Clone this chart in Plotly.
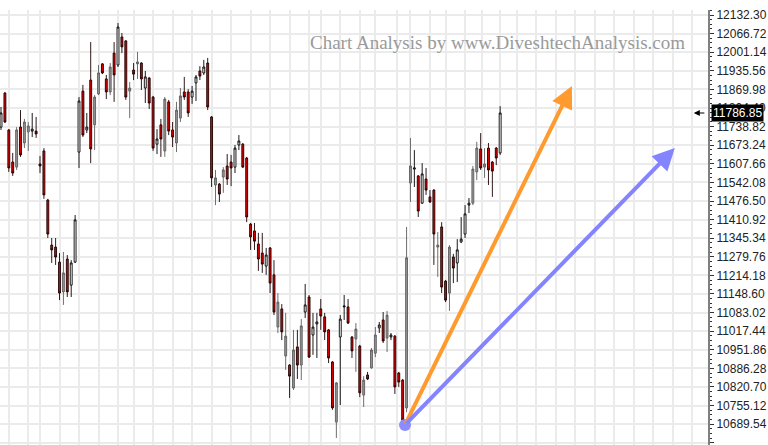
import plotly.graph_objects as go

# daily candles, left to right (index = trading day)
kind = ["W", "R", "R", "R", "G", "R", "G", "G", "W", "R",
        "R", "R", "R", "R", "R", "R", "G", "R", "W", "W",
        "W", "R", "W", "R", "G", "G", "R", "R", "G", "R",
        "W", "R", "R", "G", "R", "G", "R", "W", "R", "R",
        "W", "R", "G", "R", "R", "G", "G", "R", "R", "W",
        "W", "R", "W", "R", "R", "G", "R", "G", "R", "R",
        "W", "W", "R", "R", "R", "R", "R", "R", "W", "R",
        "R", "G", "R", "G", "R", "G", "R", "G", "W", "R",
        "W", "W", "R", "R", "R", "R", "G", "W", "W", "R",
        "R", "G", "R", "G", "R", "G", "G", "W", "R", "G",
        "W", "R", "R", "R", "G", "G", "W", "R", "W", "R",
        "R", "R", "G", "R", "R", "G", "R", "W", "W", "W",
        "W", "G", "G", "R", "G", "R", "R", "R", "W"]

open_ = [11737, 11857, 11727, 11614, 11596, 11737, 11681, 11720, 11723, 11723,
         11607, 11653, 11480, 11321, 11314, 11261, 11156, 11272, 11180, 11261,
         11649, 11864, 11727, 11903, 11745, 11854, 11960, 11907, 11861, 11998,
         11956, 12055, 12041, 11864, 11938, 11960, 11963, 11875, 11910, 11843,
         11677, 11745, 11653, 11826, 11727, 11681, 11769, 11861, 11861, 11843,
         11893, 11935, 11928, 11963, 11773, 11533, 11536, 11561, 11600, 11614,
         11596, 11674, 11677, 11628, 11395, 11371, 11325, 11293, 11247, 11311,
         11216, 11032, 11096, 10930, 10898, 10817, 10962, 10898, 11085, 11138,
         11004, 11043, 11096, 11068, 11022, 10909, 10697, 10997, 11103, 11103,
         10997, 10990, 10965, 10792, 10863, 10888, 10940, 11029, 11057, 10993,
         10997, 11000, 10870, 10845, 10747, 11540, 11589, 11565, 11469, 11554,
         11491, 11515, 11314, 11385, 11194, 11152, 11279, 11258, 11332, 11360,
         11462, 11469, 11579, 11660, 11596, 11663, 11614, 11663, 11646]

high = [11808, 11861, 11730, 11646, 11737, 11797, 11766, 11755, 11787, 11773,
        11635, 11663, 11484, 11346, 11346, 11293, 11297, 11286, 11268, 11427,
        11843, 11886, 11787, 12037, 11850, 11956, 11963, 11921, 11963, 12037,
        12104, 12069, 12044, 11896, 11963, 12002, 11966, 11935, 11914, 11847,
        11730, 11766, 11843, 11833, 11755, 11826, 11875, 11914, 11871, 11882,
        11921, 11952, 11974, 11981, 11776, 11586, 11540, 11596, 11642, 11639,
        11674, 11709, 11681, 11632, 11399, 11399, 11364, 11364, 11311, 11314,
        11268, 11152, 11113, 11082, 10901, 11022, 11022, 11060, 11184, 11145,
        11082, 11082, 11131, 11082, 11025, 10912, 10838, 11074, 11145, 11131,
        11000, 11046, 10969, 10859, 10874, 10958, 11032, 11050, 11085, 11089,
        11011, 11004, 10874, 10849, 11385, 11699, 11656, 11568, 11610, 11593,
        11515, 11518, 11367, 11402, 11198, 11321, 11290, 11342, 11420, 11462,
        11487, 11600, 11685, 11716, 11663, 11681, 11617, 11667, 11811]

low = [11727, 11752, 11579, 11565, 11586, 11632, 11663, 11653, 11702, 11699,
       11575, 11484, 11346, 11258, 11251, 11127, 11110, 11138, 11138, 11258,
       11593, 11702, 11716, 11610, 11656, 11850, 11924, 11836, 11850, 11826,
       11949, 11998, 11833, 11769, 11903, 11907, 11868, 11822, 11801, 11653,
       11642, 11632, 11632, 11709, 11667, 11649, 11755, 11833, 11773, 11819,
       11829, 11903, 11921, 11797, 11526, 11462, 11473, 11505, 11533, 11529,
       11575, 11656, 11593, 11402, 11304, 11304, 11230, 11223, 11216, 11152,
       11074, 11011, 10986, 10881, 10782, 10810, 10849, 10845, 11064, 10923,
       10934, 10923, 11022, 10986, 10905, 10740, 10641, 10757, 11057, 11043,
       10923, 10874, 10785, 10750, 10845, 10885, 10926, 11011, 10976, 10944,
       10986, 10796, 10821, 10697, 10732, 11473, 11526, 11420, 11466, 11498,
       11470, 11251, 11209, 11152, 11120, 11089, 11187, 11191, 11328, 11346,
       11434, 11462, 11550, 11586, 11558, 11533, 11491, 11603, 11639]

close = [11787, 11755, 11593, 11575, 11727, 11639, 11755, 11741, 11730, 11713,
         11600, 11498, 11360, 11304, 11279, 11152, 11223, 11156, 11258, 11410,
         11829, 11709, 11737, 11660, 11843, 11928, 11928, 11861, 11949, 11921,
         12090, 12020, 11843, 11875, 11924, 11967, 11907, 11914, 11822, 11663,
         11695, 11695, 11836, 11723, 11702, 11797, 11847, 11843, 11787, 11864,
         11914, 11917, 11949, 11808, 11558, 11558, 11501, 11586, 11554, 11593,
         11663, 11688, 11596, 11420, 11350, 11335, 11272, 11254, 11286, 11187,
         11085, 11120, 11015, 11000, 10859, 10951, 10898, 11036, 11110, 10926,
         11032, 11050, 11071, 11015, 10923, 10747, 10835, 11060, 11106, 11046,
         10948, 11025, 10800, 10845, 10849, 10951, 11004, 11039, 10983, 11074,
         11004, 10821, 10838, 10704, 11276, 11600, 11593, 11441, 11572, 11515,
         11473, 11360, 11321, 11173, 11127, 11314, 11240, 11304, 11342, 11431,
         11469, 11589, 11663, 11593, 11607, 11586, 11582, 11628, 11786.85]

last_price = 11786.85

y_ticks = [10623.96, 10689.54, 10755.12, 10820.70, 10886.28, 10951.86, 11017.44,
           11083.02, 11148.60, 11214.18, 11279.76, 11345.34, 11410.92, 11476.50,
           11542.08, 11607.66, 11673.24, 11738.82, 11804.40, 11869.98, 11935.56,
           12001.14, 12066.72, 12132.30]

# vertical grid (week / month starts, in day index)
x_grid = [2, 7, 10, 15, 20, 25, 30, 34, 39, 44, 49, 54, 59, 64, 69, 74, 79, 82,
          87, 92, 96, 101.5, 105, 110, 114, 119, 123.3, 128, 132.3, 137.2, 142.3,
          147.2, 152.3, 157.2, 162.3, 167.2, 172.3, 177.2]

# projection arrows (start -> end, day index / price)
arrow_start = (103.6, 10687)
orange_end = (146.4, 11882)
blue_end = (172.8, 11663)

styles = {
    "W": dict(fill="#ffffff", line="#000000"),
    "R": dict(fill="#e00000", line="#1a0000"),
    "G": dict(fill="#959595", line="#5e5e5e"),
}

fig = go.Figure()

for k, st in styles.items():
    idx = [i for i, c in enumerate(kind) if c == k]
    look = dict(fillcolor=st["fill"], line=dict(color=st["line"], width=0.9))
    fig.add_trace(go.Candlestick(
        x=idx,
        open=[open_[i] for i in idx],
        high=[high[i] for i in idx],
        low=[low[i] for i in idx],
        close=[close[i] for i in idx],
        increasing=look,
        decreasing=look,
        whiskerwidth=0,
        showlegend=False,
        hoverinfo="skip",
    ))

# the two arrows
for end, col in [(orange_end, "#ff9a2e"), (blue_end, "#8484ff")]:
    fig.add_annotation(
        x=end[0], y=end[1], ax=arrow_start[0], ay=arrow_start[1],
        xref="x", yref="y", axref="x", ayref="y",
        text="", showarrow=True, arrowhead=2, arrowsize=1.1,
        arrowwidth=4, arrowcolor=col,
    )

fig.add_trace(go.Scatter(
    x=[arrow_start[0]], y=[arrow_start[1]], mode="markers",
    marker=dict(size=12, color="#8c8cff"), showlegend=False, hoverinfo="skip",
))

# watermark
fig.add_annotation(
    text="Chart Analysis by www.DiveshtechAnalysis.com",
    xref="paper", yref="paper", x=0.703, y=0.926, xanchor="center", yanchor="middle",
    showarrow=False, font=dict(family="Liberation Serif", size=19, color="#9a9a9a"),
)

# last price marker on the axis
fig.add_annotation(
    text=f"{last_price:.2f}", xref="paper", yref="y", x=1, y=last_price,
    xanchor="left", xshift=3, showarrow=False, bgcolor="#000000", borderpad=1,
    font=dict(family="Liberation Sans", size=12, color="#ffffff"),
)
fig.add_annotation(
    text="", xref="paper", yref="y", x=0.980, y=last_price,
    ax=12, ay=0, showarrow=True, arrowhead=2, arrowsize=1,
    arrowwidth=1.2, arrowcolor="#000000",
)

fig.update_layout(
    width=768, height=445,
    margin=dict(l=0, r=60, t=10, b=0),
    plot_bgcolor="#ffffff", paper_bgcolor="#ffffff",
    xaxis=dict(
        range=[-0.26, 181.3], rangeslider=dict(visible=False),
        tickmode="array", tickvals=x_grid, showticklabels=False,
        showgrid=True, gridcolor="#ebebeb", gridwidth=2, zeroline=False,
    ),
    yaxis=dict(
        side="right", range=[10616.1, 12150.0],
        tickmode="array", tickvals=y_ticks, ticktext=[f"{v:.2f}" for v in y_ticks],
        ticks="outside", ticklen=4, tickcolor="#333333",
        showline=True, linecolor="#7f7f7f", linewidth=2,
        showgrid=True, gridcolor="#ebebeb", gridwidth=2, zeroline=False,
        tickfont=dict(family="Liberation Sans", size=12, color="#222222"),
        minor=dict(tick0=10623.96, dtick=16.395, ticks="outside", ticklen=2,
                   tickcolor="#333333", showgrid=False),
    ),
)

# drop the browser's default page margin so the chart sits at the window corner
fig.write_html("out.html", config={"displayModeBar": False},
               post_script="document.body.style.margin='0';")
